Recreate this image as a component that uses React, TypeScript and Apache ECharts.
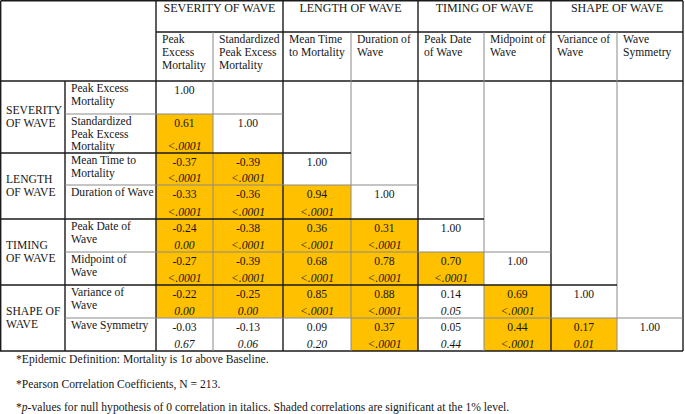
import React, { useEffect, useRef } from "react";
import * as echarts from "echarts";

// ---------- data ----------
const columnGroups = ["SEVERITY OF WAVE", "LENGTH OF WAVE", "TIMING OF WAVE", "SHAPE OF WAVE"];
const rowGroups = ["SEVERITY\nOF WAVE", "LENGTH\nOF WAVE", "TIMING\nOF WAVE", "SHAPE OF\nWAVE"];
const columnLabels = [
  "Peak\nExcess\nMortality",
  "Standardized\nPeak Excess\nMortality",
  "Mean Time\nto Mortality",
  "Duration of\nWave",
  "Peak Date\nof Wave",
  "Midpoint of\nWave",
  "Variance of\nWave",
  "Wave\nSymmetry",
];
const rowLabels = [
  "Peak Excess\nMortality",
  "Standardized\nPeak Excess\nMortality",
  "Mean Time to\nMortality",
  "Duration of Wave",
  "Peak Date of\nWave",
  "Midpoint of\nWave",
  "Variance of\nWave",
  "Wave Symmetry",
];
const correlations: string[][] = [
  ["1.00"],
  ["0.61", "1.00"],
  ["-0.37", "-0.39", "1.00"],
  ["-0.33", "-0.36", "0.94", "1.00"],
  ["-0.24", "-0.38", "0.36", "0.31", "1.00"],
  ["-0.27", "-0.39", "0.68", "0.78", "0.70", "1.00"],
  ["-0.22", "-0.25", "0.85", "0.88", "0.14", "0.69", "1.00"],
  ["-0.03", "-0.13", "0.09", "0.37", "0.05", "0.44", "0.17", "1.00"],
];
const pValues: string[][] = [
  [""],
  ["<.0001", ""],
  ["<.0001", "<.0001", ""],
  ["<.0001", "<.0001", "<.0001", ""],
  ["0.00", "<.0001", "<.0001", "<.0001", ""],
  ["<.0001", "<.0001", "<.0001", "<.0001", "<.0001", ""],
  ["0.00", "0.00", "<.0001", "<.0001", "0.05", "<.0001", ""],
  ["0.67", "0.06", "0.20", "<.0001", "0.44", "<.0001", "0.01", ""],
];
const significant: number[][] = [
  [0],
  [1, 0],
  [1, 1, 0],
  [1, 1, 1, 0],
  [1, 1, 1, 1, 0],
  [1, 1, 1, 1, 1, 0],
  [1, 1, 1, 1, 0, 1, 0],
  [0, 0, 0, 1, 0, 1, 1, 0],
];
const footnotes = [
  "*Epidemic Definition: Mortality is 1σ above Baseline.",
  "*Pearson Correlation Coefficients, N = 213.",
  "*{i|p}-values for null hypothesis of 0 correlation in italics. Shaded correlations are significant at the 1% level.",
];

// ---------- layout ----------
const COL_WIDTHS = [57, 70, 68, 67, 66, 67, 66, 66];
const ROW_HEIGHTS = [33, 39, 32, 34, 33, 33, 33, 33];
const DATA_LEFT = 156;
const DATA_TOP = 81;
const LABEL_COL_X = 65;
const HEADER_SPLIT_Y = 32;
const GOLD = "#FFC000";
const FONT = '"Liberation Serif", "Times New Roman", serif';
const FS = 11.6;
const TEXT = "#161616";
const MAJOR = "#1a1a1a";
const MINOR = "#8a8a8a";

const cum = (a: number[]) => a.reduce((acc, v) => { acc.push(acc[acc.length - 1] + v); return acc; }, [0]);
const colEdges = cum(COL_WIDTHS);
const rowEdges = cum(ROW_HEIGHTS);

export default function App() {
  const ref = useRef<HTMLDivElement>(null);
  useEffect(() => {
    if (!ref.current) return;
    const chart = echarts.init(ref.current, undefined, { renderer: "svg" });
    const cells: number[][] = [];
    correlations.forEach((row, r) => row.forEach((_, c) => cells.push([c, r])));

    chart.setOption({
      animation: false,
      backgroundColor: "#fff",
      grid: { left: DATA_LEFT, top: DATA_TOP, width: colEdges[8], height: rowEdges[8] },
      xAxis: { type: "value", min: 0, max: colEdges[8], show: false },
      yAxis: { type: "value", min: 0, max: rowEdges[8], inverse: true, show: false },
      series: [
        {
          type: "custom",
          data: cells,
          silent: true,
          renderItem: (params: any, api: any) => {
            const c = api.value(0);
            const r = api.value(1);
            const tl = api.coord([colEdges[c], rowEdges[r]]);
            const br = api.coord([colEdges[c + 1], rowEdges[r + 1]]);
            const cx = (tl[0] + br[0]) / 2;
            const children: any[] = [
              {
                type: "rect",
                shape: { x: tl[0], y: tl[1], width: br[0] - tl[0], height: br[1] - tl[1] },
                style: { fill: significant[r][c] ? GOLD : "#fff" },
              },
              {
                type: "text",
                x: cx,
                y: tl[1] + 9.5,
                style: { text: correlations[r][c], align: "center", verticalAlign: "middle", fontSize: FS, fontFamily: FONT, fill: TEXT },
              },
            ];
            if (pValues[r][c]) {
              children.push({
                type: "text",
                x: cx,
                y: br[1] - 6.8,
                style: { text: pValues[r][c], align: "center", verticalAlign: "middle", fontSize: FS, fontStyle: "italic", fontFamily: FONT, fill: TEXT },
              });
            }
            return { type: "group", children };
          },
        },
      ],
    });

    const X = (c: number) => chart.convertToPixel({ gridIndex: 0 }, [colEdges[c], 0])[0];
    const Y = (r: number) => chart.convertToPixel({ gridIndex: 0 }, [0, rowEdges[r]])[1];
    const right = X(8);
    const bottom = Y(8);
    const g: any[] = [];
    const line = (x1: number, y1: number, x2: number, y2: number, major: boolean) =>
      g.push({
        type: "line",
        z: 50,
        shape: { x1, y1, x2, y2 },
        style: { stroke: major ? MAJOR : MINOR, lineWidth: major ? 1.4 : 1 },
      });
    const txt = (x: number, y: number, text: string, align: string, va: string, extra: any = {}) =>
      g.push({
        type: "text",
        z: 60,
        x,
        y,
        style: { text, align, verticalAlign: va, fontSize: FS, fontFamily: FONT, fill: TEXT, lineHeight: 12.7, ...extra },
      });

    // outer borders
    line(0.7, 0.7, right, 0.7, true);
    line(0.7, 0.7, 0.7, bottom, true);
    line(right, 0.7, right, bottom, true);
    line(0, bottom, right, bottom, true);
    // header lines
    line(X(0), HEADER_SPLIT_Y, right, HEADER_SPLIT_Y, true);
    line(0, Y(0), right, Y(0), true);
    // vertical column lines
    for (let c = 0; c < 8; c++) {
      if (c % 2 === 0) line(X(c), 0, X(c), bottom, true);
      else line(X(c), HEADER_SPLIT_Y, X(c), bottom, false);
    }
    line(LABEL_COL_X, Y(0), LABEL_COL_X, bottom, true);
    // horizontal row lines (up to diagonal)
    for (let r = 1; r < 8; r++) {
      if (r % 2 === 0) line(0, Y(r), X(r + 1), Y(r), true);
      else line(LABEL_COL_X, Y(r), X(r + 1), Y(r), false);
    }

    // header texts
    columnGroups.forEach((t, i) => txt((X(2 * i) + X(2 * i + 2)) / 2, 8, t, "center", "middle", { fontSize: 12 }));
    columnLabels.forEach((t, c) => txt(X(c) + 6, HEADER_SPLIT_Y + 1.4, t, "left", "top"));
    rowLabels.forEach((t, r) => txt(LABEL_COL_X + 6, Y(r) + 1.2, t, "left", "top"));
    rowGroups.forEach((t, i) => txt(6, (Y(2 * i) + Y(2 * i + 2)) / 2, t, "left", "middle", { lineHeight: 13 }));

    // footnotes
    const footY = [359, 384, 407];
    footnotes.forEach((t, i) =>
      txt(16, footY[i], t, "left", "middle", { rich: { i: { fontStyle: "italic", fontSize: FS, fontFamily: FONT, fill: TEXT } } })
    );

    chart.setOption({ graphic: { elements: g } });
    return () => chart.dispose();
  }, []);

  return <div ref={ref} style={{ position: "absolute", left: 0, top: 0, width: 685, height: 414 }} />;
}
